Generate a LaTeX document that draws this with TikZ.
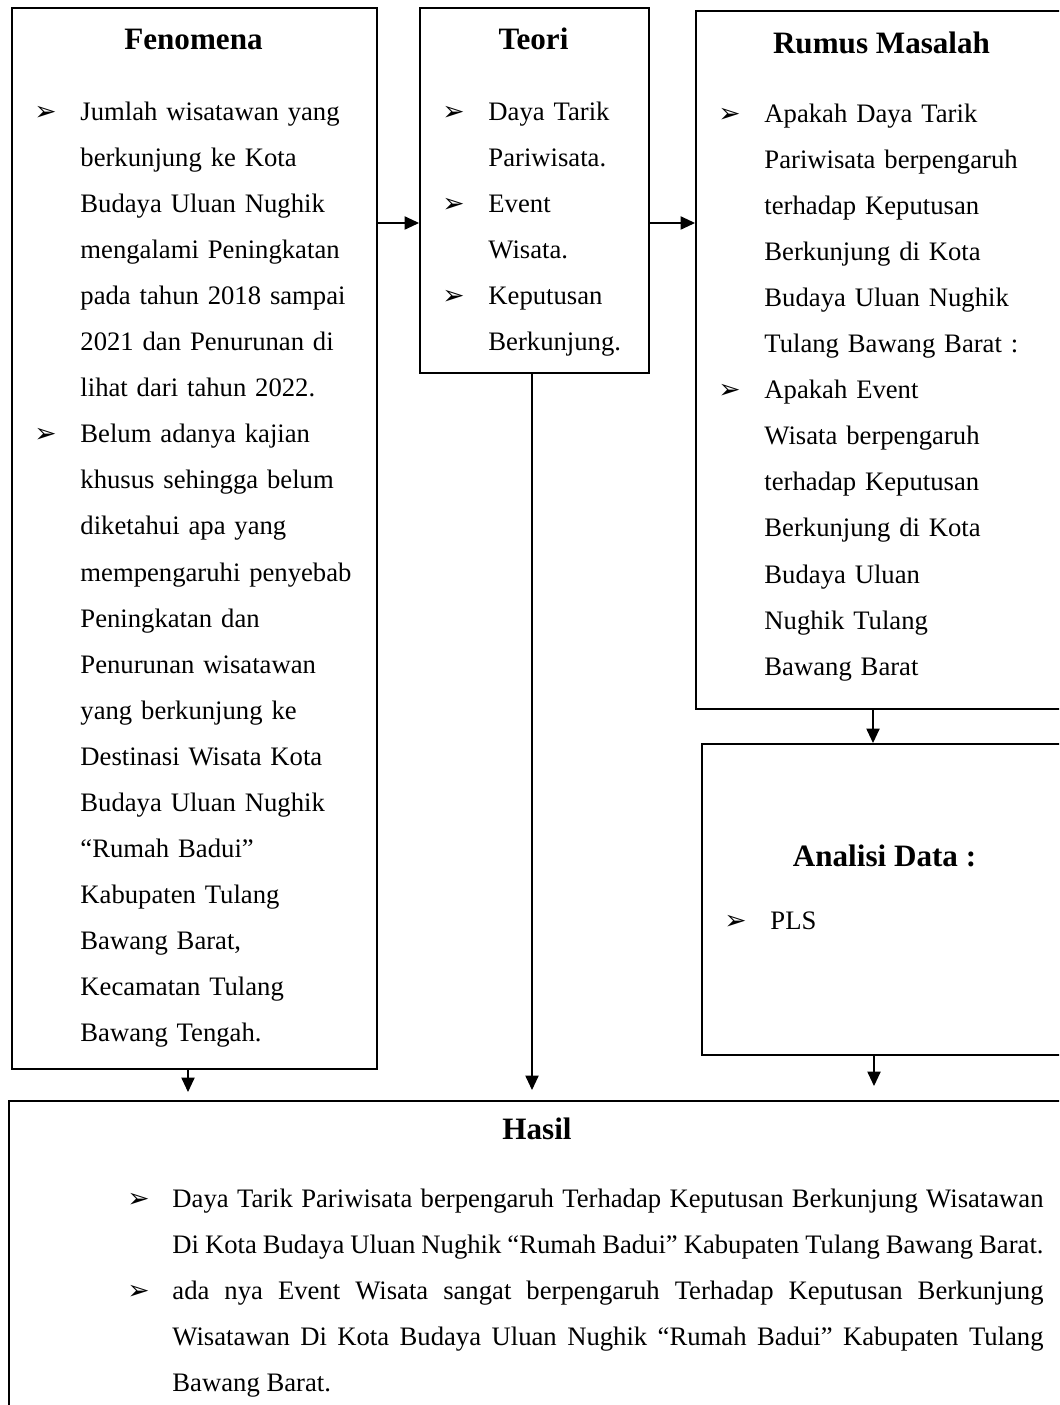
\documentclass[tikz,border=0pt]{standalone}
\usepackage{fontspec}
\setmainfont{Liberation Serif}
\newfontfamily\dvfont{DejaVu Sans}
\usetikzlibrary{arrows.meta}
\begin{document}
\begin{tikzpicture}[x=0.45pt,y=-0.45pt,
  box/.style={draw, line width=1pt, inner sep=0pt, anchor=north west},
  ttl/.style={font=\fontsize{14}{16}\selectfont\bfseries, inner sep=0pt, anchor=base},
  txt/.style={font=\fontsize{12}{20.7}\selectfont, inner sep=0pt, anchor=base west, align=left, text width=170pt},
  jtxt/.style={font=\fontsize{12}{20.7}\selectfont, inner sep=0pt, anchor=base west, align=justify, text width=392pt},
  bul/.style={font=\dvfont\fontsize{12}{12}\selectfont, inner sep=0pt, anchor=base west},
  arr/.style={line width=0.5pt, -{Triangle[length=6.5pt,width=6pt]}}]
\path[use as bounding box, clip] (0,0) rectangle (1059,1405);
\fill[white] (0,0) rectangle (1059,1405);

% boxes
\node[box, minimum width=164.25pt, minimum height=477.45pt] (fen) at (11,7) {};
\node[box, minimum width=103.05pt, minimum height=164.25pt] (teo) at (419,7) {};
\node[box, minimum width=167.85pt, minimum height=314.1pt] (rum) at (695,10) {};
\node[box, minimum width=165.15pt, minimum height=139.95pt] (ana) at (701,743) {};
\node[box, minimum width=477pt, minimum height=144pt] (has) at (8,1100) {};

% titles
\node[ttl] (fenT) at (193.5,50) {Fenomena};
\node[ttl] (teoT) at (533.5,50) {Teori};
\node[ttl] (rumT) at (881.5,54) {Rumus Masalah};
\node[ttl] (anaT) at (884.5,866) {Analisi Data :};
\node[ttl] (hasT) at (537,1139) {Hasil};

% Fenomena
\node[bul] (fb1) at (34,121) {➢};
\node[txt] (ft1) at (80,121) {Jumlah wisatawan yang\\berkunjung ke Kota\\Budaya Uluan Nughik\\mengalami Peningkatan\\pada tahun 2018 sampai\\2021 dan Penurunan di\\lihat dari tahun 2022.};
\node[bul] (fb2) at (34,443) {➢};
\node[txt] (ft2) at (80,443) {Belum adanya kajian\\khusus sehingga belum\\diketahui apa yang\\mempengaruhi penyebab\\Peningkatan dan\\Penurunan wisatawan\\yang berkunjung ke\\Destinasi Wisata Kota\\Budaya Uluan Nughik\\“Rumah Badui”\\Kabupaten Tulang\\Bawang Barat,\\Kecamatan Tulang\\Bawang Tengah.};

% Teori
\node[bul] (tb1) at (442,121) {➢};
\node[txt] (tt1) at (488,121) {Daya Tarik\\Pariwisata.};
\node[bul] (tb2) at (442,213) {➢};
\node[txt] (tt2) at (488,213) {Event\\Wisata.};
\node[bul] (tb3) at (442,305) {➢};
\node[txt] (tt3) at (488,305) {Keputusan\\Berkunjung.};

% Rumus Masalah
\node[bul] (rb1) at (718,123) {➢};
\node[txt] (rt1) at (764,123) {Apakah Daya Tarik\\Pariwisata berpengaruh\\terhadap Keputusan\\Berkunjung di Kota\\Budaya Uluan Nughik\\Tulang Bawang Barat :};
\node[bul] (rb2) at (718,399) {➢};
\node[txt] (rt2) at (764,399) {Apakah Event\\Wisata berpengaruh\\terhadap Keputusan\\Berkunjung di Kota\\Budaya Uluan\\Nughik Tulang\\Bawang Barat};

% Analisi
\node[bul] (ab1) at (724,929) {➢};
\node[txt] (at1) at (770,929) {PLS};

% Hasil
\node[bul] (hb1) at (127,1207) {➢};
\node[jtxt] (ht1) at (172,1207) {Daya Tarik Pariwisata berpengaruh Terhadap Keputusan Berkunjung Wisatawan\linebreak Di Kota Budaya Uluan Nughik “Rumah Badui” Kabupaten Tulang Bawang Barat.};
\node[bul] (hb2) at (127,1299) {➢};
\node[jtxt] (ht2) at (172,1299) {ada nya Event Wisata sangat berpengaruh Terhadap Keputusan Berkunjung\linebreak Wisatawan Di Kota Budaya Uluan Nughik “Rumah Badui” Kabupaten Tulang\linebreak Bawang Barat.};

% connectors
\coordinate (yA) at (0,223);
\draw[arr] (fen.east |- yA) -- (teo.west |- yA);
\draw[arr] (teo.east |- yA) -- (rum.west |- yA);
\coordinate (xR) at (873,0);
\draw[arr] (rum.south -| xR) -- (ana.north -| xR);
\coordinate (eF) at (188,1092);
\draw[arr] (fen.south -| eF) -- (eF);
\coordinate (eT) at (532,1090);
\draw[arr] (teo.south -| eT) -- (eT);
\coordinate (eA) at (874,1086);
\draw[arr] (ana.south -| eA) -- (eA);
\end{tikzpicture}
\end{document}
